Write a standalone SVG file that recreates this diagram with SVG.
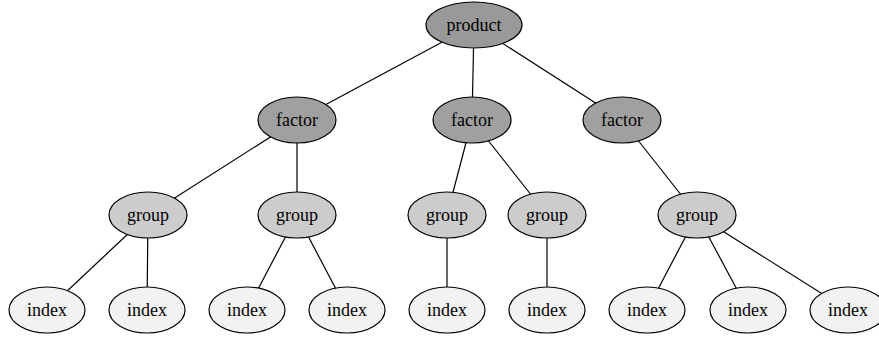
<svg xmlns="http://www.w3.org/2000/svg" width="879" height="338" viewBox="0 0 879 338">
<style>
.e{stroke:#000;stroke-width:1.2;fill:none}
ellipse{stroke:#000;stroke-width:1.2}
.p{fill:#999999}
.f{fill:#a0a0a0}
.g{fill:#cccccc}
.i{fill:#f2f2f2}
text{font-family:"Liberation Serif","Times New Roman",serif;font-size:18px;text-anchor:middle;dominant-baseline:central;fill:#000}
</style>
<rect width="879" height="338" fill="#fff"/>
<g id="connectors">
<line class="e" x1="474" y1="25" x2="297" y2="120"/>
<line class="e" x1="474" y1="25" x2="472" y2="120"/>
<line class="e" x1="474" y1="25" x2="622" y2="120"/>
<line class="e" x1="297" y1="120" x2="148" y2="215"/>
<line class="e" x1="297" y1="120" x2="297" y2="215"/>
<line class="e" x1="472" y1="120" x2="447" y2="215"/>
<line class="e" x1="472" y1="120" x2="547" y2="215"/>
<line class="e" x1="622" y1="120" x2="697" y2="215"/>
<line class="e" x1="148" y1="215" x2="47" y2="310"/>
<line class="e" x1="148" y1="215" x2="147" y2="310"/>
<line class="e" x1="297" y1="215" x2="247" y2="310"/>
<line class="e" x1="297" y1="215" x2="347" y2="310"/>
<line class="e" x1="447" y1="215" x2="447" y2="310"/>
<line class="e" x1="547" y1="215" x2="547" y2="310"/>
<line class="e" x1="697" y1="215" x2="647" y2="310"/>
<line class="e" x1="697" y1="215" x2="748" y2="310"/>
<line class="e" x1="697" y1="215" x2="848" y2="310"/>
</g>
<g id="product"><ellipse class="p" cx="474" cy="25" rx="48" ry="23"/><text x="474" y="25">product</text></g>
<g id="factor1"><ellipse class="f" cx="297" cy="120" rx="39" ry="23"/><text x="297" y="120">factor</text></g>
<g id="factor2"><ellipse class="f" cx="472" cy="120" rx="39" ry="23"/><text x="472" y="120">factor</text></g>
<g id="factor3"><ellipse class="f" cx="622" cy="120" rx="39" ry="23"/><text x="622" y="120">factor</text></g>
<g id="group1"><ellipse class="g" cx="148" cy="215" rx="39" ry="23"/><text x="148" y="215">group</text></g>
<g id="group2"><ellipse class="g" cx="297" cy="215" rx="39" ry="23"/><text x="297" y="215">group</text></g>
<g id="group3"><ellipse class="g" cx="447" cy="215" rx="39" ry="23"/><text x="447" y="215">group</text></g>
<g id="group4"><ellipse class="g" cx="547" cy="215" rx="39" ry="23"/><text x="547" y="215">group</text></g>
<g id="group5"><ellipse class="g" cx="697" cy="215" rx="39" ry="23"/><text x="697" y="215">group</text></g>
<g id="index1"><ellipse class="i" cx="47" cy="310" rx="38" ry="23"/><text x="47" y="310">index</text></g>
<g id="index2"><ellipse class="i" cx="147" cy="310" rx="38" ry="23"/><text x="147" y="310">index</text></g>
<g id="index3"><ellipse class="i" cx="247" cy="310" rx="38" ry="23"/><text x="247" y="310">index</text></g>
<g id="index4"><ellipse class="i" cx="347" cy="310" rx="38" ry="23"/><text x="347" y="310">index</text></g>
<g id="index5"><ellipse class="i" cx="447" cy="310" rx="38" ry="23"/><text x="447" y="310">index</text></g>
<g id="index6"><ellipse class="i" cx="547" cy="310" rx="38" ry="23"/><text x="547" y="310">index</text></g>
<g id="index7"><ellipse class="i" cx="647" cy="310" rx="38" ry="23"/><text x="647" y="310">index</text></g>
<g id="index8"><ellipse class="i" cx="748" cy="310" rx="38" ry="23"/><text x="748" y="310">index</text></g>
<g id="index9"><ellipse class="i" cx="848" cy="310" rx="38" ry="23"/><text x="848" y="310">index</text></g>
</svg>
